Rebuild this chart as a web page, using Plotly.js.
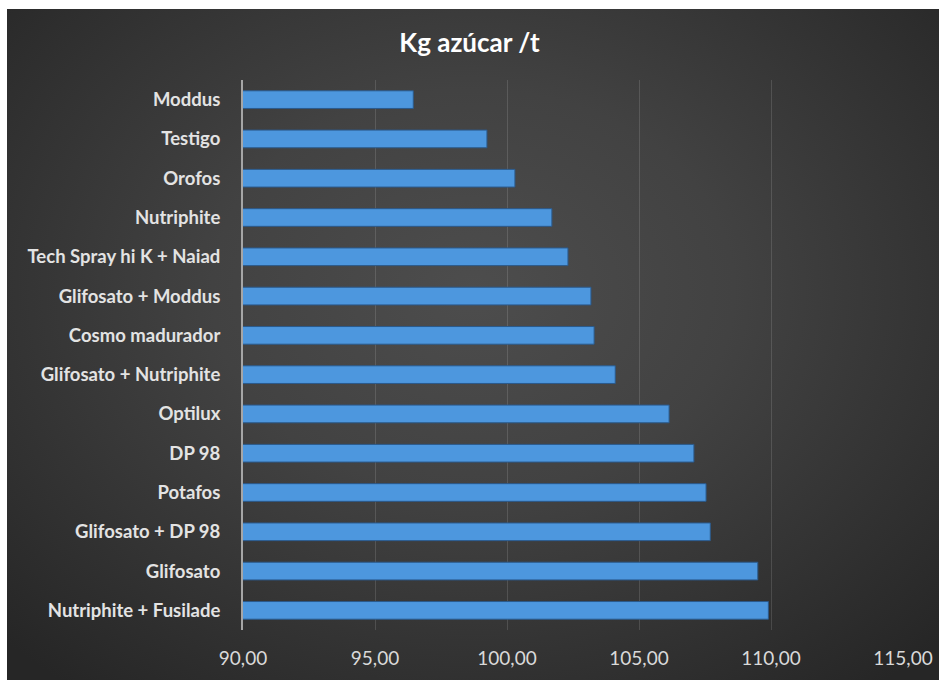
<!DOCTYPE html>
<html>
<head>
<meta charset="utf-8">
<script src="https://cdn.plot.ly/plotly-3.0.1.min.js"></script>
<style>
html, body { margin:0; padding:0; background:#ffffff; }
#bg { position:absolute; left:7px; top:9px; width:932px; height:671px;
  background: radial-gradient(ellipse 70% 75% at 50% 42%, #4d4d4d 0%, #424242 40%, #2d2d2d 85%, #262626 100%); }
#chart { position:absolute; left:0; top:0; width:939px; height:680px; }
</style>
</head>
<body>
<div id="bg"></div>
<div id="chart"></div>
<script>
const categories = [
  "Moddus", "Testigo", "Orofos", "Nutriphite", "Tech Spray hi K + Naiad",
  "Glifosato + Moddus", "Cosmo madurador", "Glifosato + Nutriphite", "Optilux",
  "DP 98", "Potafos", "Glifosato + DP 98", "Glifosato", "Nutriphite + Fusilade"
];
const values = [96.45, 99.24, 100.30, 101.70, 102.31, 103.18, 103.30, 104.10, 106.14, 107.08, 107.54, 107.70, 109.50, 109.90];
const xTicks = [90, 95, 100, 105, 110, 115];
const xTickLabels = ["90,00", "95,00", "100,00", "105,00", "110,00", "115,00"];
const chartTitle = "Kg azúcar /t";

const font = "Lato, 'Open Sans', sans-serif";

Plotly.newPlot("chart", [{
  type: "bar",
  orientation: "h",
  y: categories,
  x: values,
  base: 0,
  marker: { color: "#4d97de", line: { color: "#2b5a8c", width: 1 } },
  hoverinfo: "x+y"
}], {
  width: 939, height: 680,
  paper_bgcolor: "rgba(0,0,0,0)",
  plot_bgcolor: "rgba(0,0,0,0)",
  margin: { l: 243, r: 36, t: 80, b: 50 },
  bargap: 0.55,
  showlegend: false,
  title: { text: chartTitle, x: 0.5, xanchor: "center", y: 0.937, yanchor: "middle",
    font: { family: font, size: 26, color: "#ffffff", weight: "bold" } },
  xaxis: {
    range: [90, 115],
    tickvals: xTicks, ticktext: xTickLabels,
    showgrid: true, gridcolor: "rgba(255,255,255,0.13)", gridwidth: 1,
    zeroline: false, showline: false,
    ticks: "", ticklabelstandoff: 15,
    tickfont: { family: font, size: 19, color: "#d9d9d9" },
    fixedrange: true
  },
  yaxis: {
    type: "category",
    autorange: "reversed",
    showgrid: false, zeroline: false,
    showline: true, linecolor: "#a6a6a6", linewidth: 2,
    ticks: "", ticklabelstandoff: 17,
    tickfont: { family: font, size: 18.5, color: "#e3e3e3", weight: "bold" },
    fixedrange: true
  }
}, { displayModeBar: false, staticPlot: true });
</script>
</body>
</html>
